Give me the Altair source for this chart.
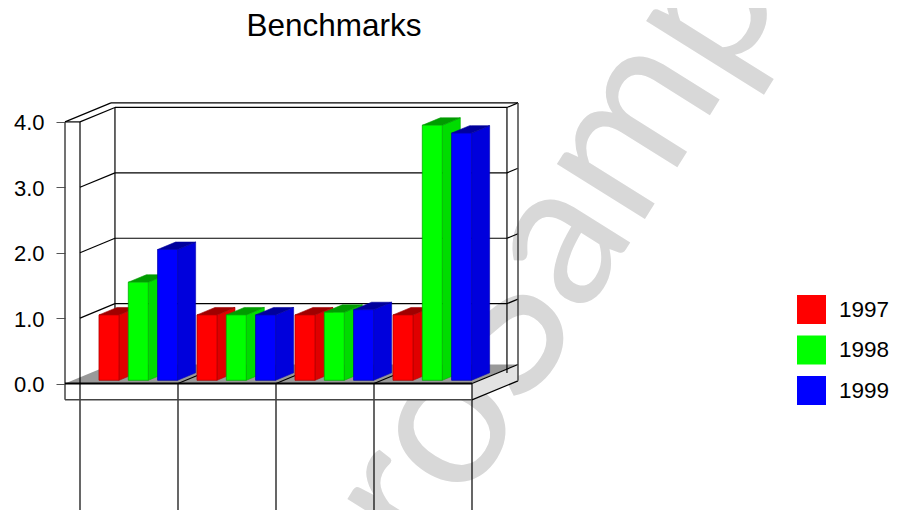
import altair as alt
import pandas as pd

categories = [0, 1, 2, 3]
series = ["1997", "1998", "1999"]
values = {
    "1997": [1.0, 1.0, 1.0, 1.0],
    "1998": [1.5, 1.0, 1.04, 3.9],
    "1999": [2.0, 1.0, 1.08, 3.78],
}
front_colors = ["#ff0000", "#00ff00", "#0000ff"]
side_colors = ["#e00000", "#00dc00", "#0000dc"]
top_colors = ["#a00000", "#009c00", "#00009c"]
edge_colors = ["#b00000", "#00b000", "#0000b0"]
y_ticks = [0, 1, 2, 3, 4]

# Page geometry of the projection: one category, one value unit, full depth.
PX_U, PX_V = 98.0, 65.4
DEPTH_X, DEPTH_Y = 46.0, 19.0
ORIGIN_X, ORIGIN_Y = 80.0, 383.5
LEFT, TOP, RIGHT, BOTTOM = 65.0, 60.0, 895.0, 510.0
U_L = (LEFT - ORIGIN_X) / PX_U
V_MIN = (ORIGIN_Y - BOTTOM) / PX_V
V_SLAB = -0.25
Z_WALL = 0.76


def P(u, v, z=0.0):
    return u + z * DEPTH_X / PX_U, v + z * DEPTH_Y / PX_V


def seg(rows, name, a, b):
    for p in (a, b):
        x, y = P(*p)
        rows.append({"x": x, "y": y, "seg": name})


def side_face(rows, name, u, v0, v1, z0, z1, **kw):
    xa, ya = P(u, v1, z0)
    _, yb = P(u, v0, z0)
    xc, yc = P(u, v1, z1)
    _, yd = P(u, v0, z1)
    rows.append({"x": xa, "y": ya, "y2": yb, "id": name, **kw})
    rows.append({"x": xc, "y": yc, "y2": yd, "id": name, **kw})


def top_face(rows, name, u0, u1, v, z0, z1, **kw):
    x0, y0 = P(u0, v, z0)
    x1, y1 = P(u0, v, z1)
    x2, _ = P(u1, v, z0)
    x3, _ = P(u1, v, z1)
    for x, a, b in [(x0, y0, y0), (x1, y1, y0), (x2, y1, y0), (x3, y1, y1)]:
        rows.append({"x": x, "y": a, "y2": b, "id": name, **kw})


x_enc = alt.X("x:Q", axis=None, scale=alt.Scale(
    domain=[U_L, (RIGHT - ORIGIN_X) / PX_U], nice=False, zero=False))
y_enc = alt.Y("y:Q", stack=None, scale=alt.Scale(
    domain=[V_MIN, (ORIGIN_Y - TOP) / PX_V], nice=False, zero=False),
    axis=alt.Axis(values=y_ticks, format=".1f", title=None, domain=False, grid=False,
                  tickColor="#555555", tickSize=9, tickWidth=1, labelPadding=12, labelOffset=1,
                  labelFont="Liberation Sans", labelFontSize=22, labelColor="#000000"))

# Watermark
wm = pd.DataFrame({"x": [(566 - ORIGIN_X) / PX_U], "y": [(ORIGIN_Y - 228) / PX_V], "t": ["proSample"]})
watermark = alt.Chart(wm).mark_text(
    angle=302, fontSize=205, font="Lato", color="#d8d8d8", align="center", baseline="middle"
).encode(x=x_enc, y=y_enc, text="t:N")

# Title as a text mark (its position must not depend on the watermark's bounds)
tt = pd.DataFrame({"x": [(334 - ORIGIN_X) / PX_U], "y": [(ORIGIN_Y - 36) / PX_V], "t": ["Benchmarks"]})
title_mark = alt.Chart(tt).mark_text(
    fontSize=31.5, font="Liberation Sans", color="#000000", align="center", baseline="alphabetic"
).encode(x=x_enc, y=y_enc, text="t:N")

# Platform
floor_rows, slab_rows = [], []
top_face(floor_rows, "floor", U_L, 4, 0, 0, 1)
side_face(slab_rows, "slab", 4, V_SLAB, 0, 0, 1)
floor = alt.Chart(pd.DataFrame(floor_rows)).mark_area(opacity=1, color="#999999").encode(
    x=x_enc, y=y_enc, y2="y2:Q")
slab_side = alt.Chart(pd.DataFrame(slab_rows)).mark_area(opacity=1, color="#e2e2e2").encode(
    x=x_enc, y=y_enc, y2="y2:Q")
slab_front = alt.Chart(pd.DataFrame({"x": [U_L], "x2": [4.0], "y": [0.0], "y2": [V_SLAB]})).mark_rect(
    color="#ffffff", opacity=1).encode(x=x_enc, x2="x2:Q", y=y_enc, y2="y2:Q")

# Dark frame lines
dark = []
for v in [1, 2, 3, 4]:
    seg(dark, f"g{v}", (0, v, Z_WALL), (4, v, Z_WALL))
    seg(dark, f"l{v}", (0, v, 0), (0, v, Z_WALL))
    seg(dark, f"r{v}", (4, v, Z_WALL), (4, v, 1))
seg(dark, "topf", (U_L, 4, 0), (0, 4, 0))
seg(dark, "tops", (U_L, 4, 0), (U_L, 4, 1))
seg(dark, "topb", (U_L, 4, 1), (4, 4, 1))
seg(dark, "v0", (0, V_MIN, 0), (0, 4, 0))
seg(dark, "bl", (0, 0, Z_WALL), (0, 4, Z_WALL))
seg(dark, "br", (4, -0.06, Z_WALL), (4, 4, Z_WALL))
seg(dark, "fl0", (4, 0, 0), (4, 0, 1))
seg(dark, "sl0", (4, V_SLAB, 0), (4, V_SLAB, 1))
for c in [1, 2, 3, 4]:
    seg(dark, f"v{c}", (c, V_MIN, 0), (c, 0, 0))
for c in [1, 2, 3]:
    seg(dark, f"d{c}", (c, 0, 0), (c, 0, Z_WALL))
dark_lines = alt.Chart(pd.DataFrame(dark)).mark_line(color="#000000", strokeWidth=1.2, interpolate="linear").encode(
    x=x_enc, y=y_enc, detail="seg:N", order="y:Q")

grey = []
seg(grey, "wall", (U_L, V_SLAB, 0), (U_L, 4, 0))
seg(grey, "back", (4, V_SLAB, 1), (4, 4, 1))
seg(grey, "slabb", (U_L, V_SLAB, 0), (4, V_SLAB, 0))
grey_lines = alt.Chart(pd.DataFrame(grey)).mark_line(color="#444444", strokeWidth=1.5).encode(
    x=x_enc, y=y_enc, detail="seg:N", order="x:Q")

base = []
seg(base, "base", (U_L, 0, 0), (4, 0, 0))
base_line = alt.Chart(pd.DataFrame(base)).mark_line(color="#000000", strokeWidth=2).encode(
    x=x_enc, y=y_enc, detail="seg:N", order="x:Q")

# Bars
BAR_START, BAR_STEP, BAR_W = 0.115, 0.299, 0.204
Z0, Z1 = 0.168, 0.56
sides, tops, fronts = [], [], []
for k, s in enumerate(series):
    for c, v in zip(categories, values[s]):
        u = c + BAR_START + BAR_STEP * k
        name = f"{s}-{c}"
        style = {"face": side_colors[k], "edge": edge_colors[k]}
        side_face(sides, name, u + BAR_W, 0, v, Z0, Z1, **style)
        style = {"face": top_colors[k], "edge": top_colors[k]}
        top_face(tops, name, u, u + BAR_W, v, Z0, Z1, **style)
        x0, y0 = P(u, 0, Z0)
        x1, y1 = P(u + BAR_W, v, Z0)
        fronts.append({"x": x0, "x2": x1, "y": y0, "y2": y1, "series": s, "edge": edge_colors[k]})


def faces(rows):
    return alt.Chart(pd.DataFrame(rows)).mark_area(opacity=1, strokeWidth=0.6).encode(
        x=x_enc, y=y_enc, y2="y2:Q", detail="id:N",
        fill=alt.Fill("face:N", scale=None), stroke=alt.Stroke("edge:N", scale=None))


front_layer = alt.Chart(pd.DataFrame(fronts)).mark_rect(opacity=1, strokeWidth=0.8).encode(
    x=x_enc, x2="x2:Q", y=y_enc, y2="y2:Q",
    stroke=alt.Stroke("edge:N", scale=None),
    color=alt.Color("series:N", scale=alt.Scale(domain=series, range=front_colors),
                    legend=alt.Legend(title=None, orient="none", legendX=732, legendY=235,
                                      symbolType="square", symbolSize=841, symbolStrokeWidth=0,
                                      symbolOpacity=1, rowPadding=11.5, labelFont="Liberation Sans",
                                      labelFontSize=22.5, labelColor="#000000", labelOffset=13,
                                      labelLimit=100, padding=0)),
)

chart = alt.layer(
    watermark, floor, slab_side, slab_front, dark_lines, grey_lines, base_line,
    faces(sides), faces(tops), front_layer, title_mark,
).properties(
    width=RIGHT - LEFT,
    height=BOTTOM - TOP,
    padding={"left": 57, "top": 52, "right": 0, "bottom": 0},
    autosize=alt.AutoSizeParams(type="none"),
    background="#ffffff",
).configure_view(stroke=None)

chart.save("out.html", embed_options={"renderer": "svg", "actions": False})
